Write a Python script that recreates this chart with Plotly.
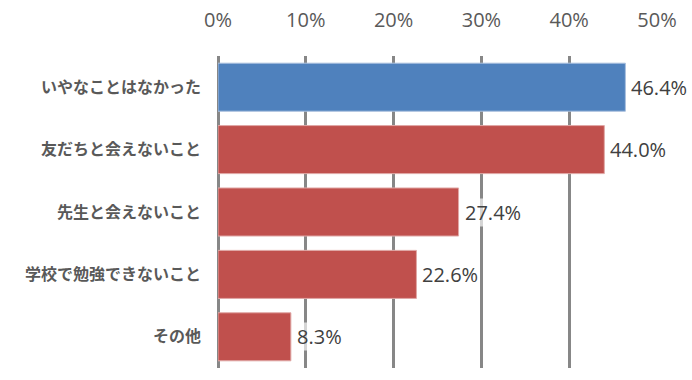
import plotly.graph_objects as go

categories = ["いやなことはなかった", "友だちと会えないこと", "先生と会えないこと", "学校で勉強できないこと", "その他"]
values = [46.4, 44.0, 27.4, 22.6, 8.3]
bar_colors = ["#4f81bd", "#c0504d", "#c0504d", "#c0504d", "#c0504d"]
line_colors = ["#a9c0de", "#e0a8a6", "#e0a8a6", "#e0a8a6", "#e0a8a6"]
tick_vals = [0, 10, 20, 30, 40, 50]
tick_text = ["0%", "10%", "20%", "30%", "40%", "50%"]

fig = go.Figure()
fig.add_trace(go.Bar(
    y=categories, x=values, orientation="h",
    marker=dict(color=bar_colors, line=dict(color=line_colors, width=1)),
    width=0.77, hoverinfo="skip",
))

for c, v in zip(categories, values):
    fig.add_annotation(
        x=v, y=c, text=f"{v:.1f}%", showarrow=False,
        xanchor="left", yanchor="middle", xshift=5,
        font=dict(family="Open Sans, Liberation Sans, sans-serif", size=20, color="#404040"),
        bgcolor="rgba(255,255,255,0.65)", borderpad=0,
    )

fig.update_layout(
    width=692, height=380,
    margin=dict(l=218, r=35, t=56, b=12, autoexpand=False),
    paper_bgcolor="white", plot_bgcolor="white",
    showlegend=False,
    bargap=0.23,
    hovermode=False,
    xaxis=dict(
        range=[0, 50], side="top", automargin=False,
        tickvals=tick_vals, ticktext=tick_text,
        showgrid=True, gridcolor="#878787", gridwidth=2.5,
        zeroline=True, zerolinecolor="#878787", zerolinewidth=2.5,
        showline=False, ticks="", ticklabelstandoff=24,
        tickfont=dict(family="Open Sans, Liberation Sans, sans-serif", size=20, color="#595959"),
        fixedrange=True,
    ),
    yaxis=dict(
        autorange="reversed", showgrid=False, showline=False, ticks="",
        automargin=False, ticklabelstandoff=16,
        tickfont=dict(family="Noto Sans CJK JP", size=16, color="#595959", weight="bold"),
        fixedrange=True,
    ),
)

fig.write_html("out.html", config={"displayModeBar": False},
               post_script="document.body.style.margin='0';")
